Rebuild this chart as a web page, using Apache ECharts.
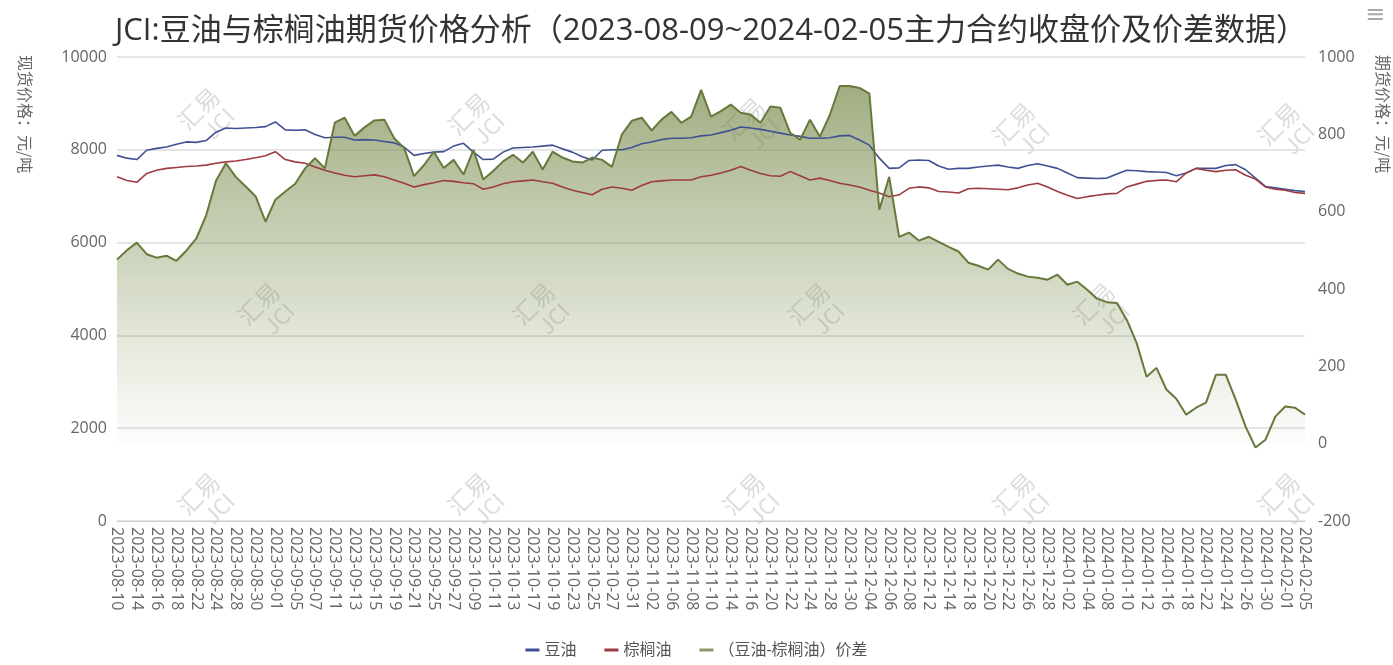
<!DOCTYPE html>
<html>
<head>
<meta charset="utf-8">
<script src="https://cdn.jsdelivr.net/npm/echarts@6/dist/echarts.min.js"></script>
<style>
html,body{margin:0;padding:0;background:#fff;}
#chart{width:1393px;height:665px;}
</style>
</head>
<body>
<div id="chart"></div>
<script>
var dates = [
'2023-08-10','2023-08-11','2023-08-14','2023-08-15','2023-08-16','2023-08-17','2023-08-18','2023-08-21','2023-08-22','2023-08-23',
'2023-08-24','2023-08-25','2023-08-28','2023-08-29','2023-08-30','2023-08-31','2023-09-01','2023-09-04','2023-09-05','2023-09-06',
'2023-09-07','2023-09-08','2023-09-11','2023-09-12','2023-09-13','2023-09-14','2023-09-15','2023-09-18','2023-09-19','2023-09-20',
'2023-09-21','2023-09-22','2023-09-25','2023-09-26','2023-09-27','2023-09-28','2023-10-09','2023-10-10','2023-10-11','2023-10-12',
'2023-10-13','2023-10-16','2023-10-17','2023-10-18','2023-10-19','2023-10-20','2023-10-23','2023-10-24','2023-10-25','2023-10-26',
'2023-10-27','2023-10-30','2023-10-31','2023-11-01','2023-11-02','2023-11-03','2023-11-06','2023-11-07','2023-11-08','2023-11-09',
'2023-11-10','2023-11-13','2023-11-14','2023-11-15','2023-11-16','2023-11-17','2023-11-20','2023-11-21','2023-11-22','2023-11-23',
'2023-11-24','2023-11-27','2023-11-28','2023-11-29','2023-11-30','2023-12-01','2023-12-04','2023-12-05','2023-12-06','2023-12-07',
'2023-12-08','2023-12-11','2023-12-12','2023-12-13','2023-12-14','2023-12-15','2023-12-18','2023-12-19','2023-12-20','2023-12-21',
'2023-12-22','2023-12-25','2023-12-26','2023-12-27','2023-12-28','2023-12-29','2024-01-02','2024-01-03','2024-01-04','2024-01-05',
'2024-01-08','2024-01-09','2024-01-10','2024-01-11','2024-01-12','2024-01-15','2024-01-16','2024-01-17','2024-01-18','2024-01-19',
'2024-01-22','2024-01-23','2024-01-24','2024-01-25','2024-01-26','2024-01-29','2024-01-30','2024-01-31','2024-02-01','2024-02-02',
'2024-02-05'
];

var soyOil = [
7880,7820,7790,7990,8030,8060,8120,8170,8160,8200,
8380,8470,8460,8470,8480,8500,8600,8430,8420,8430,
8330,8260,8270,8270,8210,8220,8210,8180,8150,8060,
7880,7920,7950,7960,8080,8140,7950,7790,7800,7950,
8040,8050,8060,8080,8100,8020,7950,7850,7780,7990,
8000,8000,8050,8130,8170,8220,8250,8250,8260,8300,
8320,8370,8420,8490,8470,8440,8400,8360,8320,8290,
8250,8250,8260,8300,8310,8210,8100,7820,7600,7610,
7770,7780,7770,7650,7580,7600,7600,7630,7650,7670,
7630,7600,7660,7700,7650,7600,7500,7400,7390,7380,
7390,7480,7560,7550,7530,7520,7510,7440,7500,7600,
7600,7600,7660,7680,7570,7390,7210,7180,7150,7120,
7100
];

var palmOil = [
7420,7340,7300,7490,7560,7600,7620,7640,7650,7670,
7710,7740,7760,7790,7830,7870,7960,7790,7740,7710,
7630,7560,7500,7450,7420,7440,7460,7420,7350,7280,
7200,7250,7290,7340,7320,7290,7270,7150,7200,7270,
7310,7330,7350,7310,7280,7200,7130,7080,7030,7150,
7200,7170,7130,7230,7310,7330,7350,7350,7350,7420,
7450,7500,7560,7640,7560,7490,7440,7430,7530,7440,
7350,7390,7340,7280,7240,7200,7130,7070,6990,7030,
7170,7200,7180,7100,7090,7070,7160,7170,7160,7150,
7140,7180,7240,7280,7200,7100,7020,6950,6990,7020,
7050,7060,7200,7260,7320,7340,7350,7310,7500,7600,
7560,7530,7560,7570,7450,7370,7200,7150,7130,7080,
7060
];

var spread = [
476,500,520,490,481,486,473,499,530,590,
680,725,690,665,640,574,631,652,672,712,
738,712,830,843,796,818,836,838,790,765,
692,720,755,713,734,696,760,683,705,730,
747,727,755,709,755,740,730,727,740,734,
716,800,835,843,810,838,858,830,846,915,
846,860,877,856,851,830,872,869,804,786,
838,794,850,925,925,920,905,605,690,535,
546,525,535,522,509,497,468,460,450,476,
452,440,432,429,424,437,411,419,398,375,
366,364,320,260,173,196,140,116,75,93,
106,178,178,114,44,-10,10,70,96,93,
75
];

var leftTicks = {min: 0, max: 10000, interval: 2000};
var rightTicks = {min: -200, max: 1000, interval: 200};

var FONT = "'Open Sans', 'Noto Sans CJK SC', sans-serif";

var watermarkPos = [
  [190,120],[460,125],[735,130],[1005,135],[1270,135],
  [250,315],[525,315],[800,315],[1085,315],
  [190,505],[460,505],[735,505],[1005,505],[1270,505]
];
var wmGraphics = [];
watermarkPos.forEach(function(p){
  wmGraphics.push({
    type: 'group', x: p[0], y: p[1], rotation: Math.PI/4, silent: true, z: 100,
    children: [
      {type:'text', x:-10, y:-14, style:{text:'汇易', font:'24px "Noto Sans CJK SC"', fill:'rgba(150,150,150,0.33)'}},
      {type:'text', x:2, y:12, style:{text:'JCI', font:'22px "Noto Sans CJK SC"', fill:'rgba(150,150,150,0.33)'}}
    ]
  });
});

function plain(v){ return String(v); }

var chart = echarts.init(document.getElementById('chart'));
chart.setOption({
  backgroundColor: '#fff',
  animation: false,
  title: {
    text: 'JCI:豆油与棕榈油期货价格分析（2023-08-09~2024-02-05主力合约收盘价及价差数据）',
    left: 110, top: 11,
    textStyle: {fontSize: 31, fontWeight: 'normal', color: '#333', fontFamily: FONT}
  },
  legend: {
    bottom: 2, left: 'center', itemGap: 28, itemWidth: 14, itemHeight: 3, icon: 'rect',
    textStyle: {fontSize: 16, color: '#555', fontFamily: FONT},
    data: ['豆油','棕榈油','（豆油-棕榈油）价差']
  },
  grid: {left: 117, right: 88, top: 57, bottom: 144, containLabel: false},
  xAxis: {
    type: 'category', data: dates, boundaryGap: false,
    axisLine: {lineStyle: {color: '#ccc'}},
    axisTick: {show: false},
    axisLabel: {interval: 1, rotate: -90, fontSize: 16, color: '#666', fontFamily: FONT, margin: 6}
  },
  yAxis: [
    {
      type: 'value', min: leftTicks.min, max: leftTicks.max, interval: leftTicks.interval,
      axisLine: {show: false}, axisTick: {show: false},
      axisLabel: {fontSize: 16, color: '#666', fontFamily: FONT, margin: 10, formatter: plain},
      splitLine: {lineStyle: {color: '#dcdcdc', width: 1.5}}
    },
    {
      type: 'value', min: rightTicks.min, max: rightTicks.max, interval: rightTicks.interval,
      axisLine: {show: false}, axisTick: {show: false},
      axisLabel: {fontSize: 16, color: '#666', fontFamily: FONT, margin: 13, formatter: plain},
      splitLine: {show: false}
    }
  ],
  series: [
    {
      name: '豆油', type: 'line', yAxisIndex: 0, data: soyOil, showSymbol: false,
      lineStyle: {color: '#3f5192', width: 1.6}, itemStyle: {color: '#3f5192'}
    },
    {
      name: '棕榈油', type: 'line', yAxisIndex: 0, data: palmOil, showSymbol: false,
      lineStyle: {color: '#9c3b40', width: 1.6}, itemStyle: {color: '#9c3b40'}
    },
    {
      name: '（豆油-棕榈油）价差', type: 'line', yAxisIndex: 1, data: spread, showSymbol: false,
      lineStyle: {color: '#66793a', width: 2}, itemStyle: {color: '#8a9a66'},
      areaStyle: {
        color: new echarts.graphic.LinearGradient(0, 0, 0, 1, [
          {offset: 0, color: 'rgba(108,128,60,0.92)'},
          {offset: 0.5, color: 'rgba(120,140,75,0.5)'},
          {offset: 1, color: 'rgba(140,155,100,0.02)'}
        ])
      }
    }
  ],
  graphic: [
    {type:'text', x: 33, y: 55, rotation: -Math.PI/2,
     style: {text: '现货价格：元/吨', font: '16px "Noto Sans CJK SC"', fill: '#666'}},
    {type:'text', x: 1391, y: 55, rotation: -Math.PI/2,
     style: {text: '期货价格：元/吨', font: '16px "Noto Sans CJK SC"', fill: '#666'}},
    {type:'text', right: 8, top: 4, style: {text: '≡', font: '24px "DejaVu Sans"', fill: '#aaa'}}
  ].concat(wmGraphics)
});
</script>
</body>
</html>
